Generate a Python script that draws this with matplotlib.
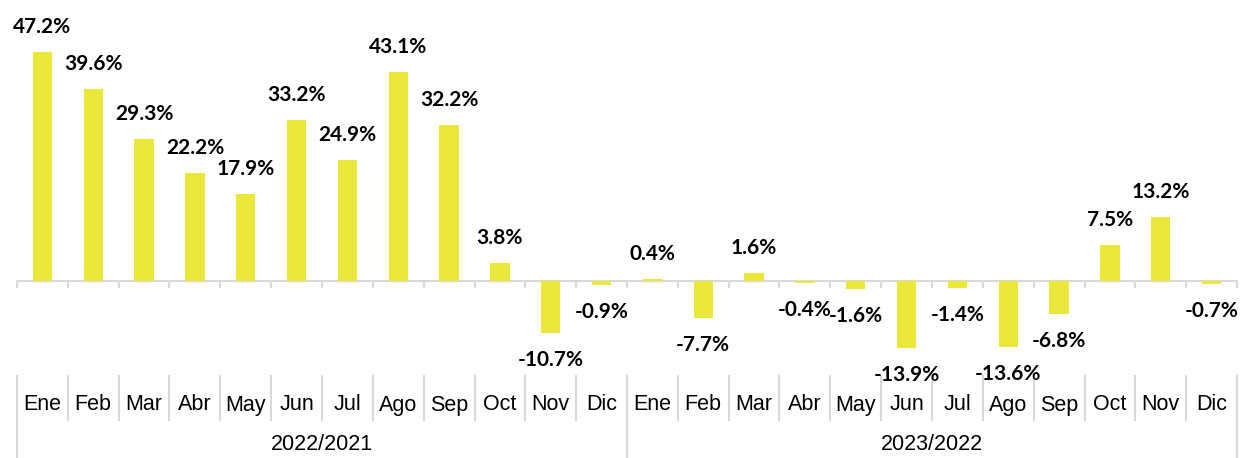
import matplotlib.pyplot as plt
from matplotlib.transforms import blended_transform_factory

months = ['Ene', 'Feb', 'Mar', 'Abr', 'May', 'Jun', 'Jul', 'Ago', 'Sep', 'Oct', 'Nov', 'Dic']
years = ['2022/2021', '2023/2022']
values_2022 = [47.2, 39.6, 29.3, 22.2, 17.9, 33.2, 24.9, 43.1, 32.2, 3.8, -10.7, -0.9]
values_2023 = [0.4, -7.7, 1.6, -0.4, -1.6, -13.9, -1.4, -13.6, -6.8, 7.5, 13.2, -0.7]

values = values_2022 + values_2023
labels = months * 2
x = list(range(len(values)))

W, H = 1240, 458
fig = plt.figure(figsize=(W / 100, H / 100), dpi=100)
ax = fig.add_axes([17 / W, (H - 370) / H, 1220 / W, 370 / H])

bar_color = '#EBE83C'
grid_color = '#D9D9D9'

ax.bar(x, values, width=0.38, color=bar_color)
ax.set_xlim(-0.5, len(values) - 0.5)
ax.set_ylim(-18.35, 57.9)
ax.axis('off')

# zero line and small ticks at category boundaries
ax.axhline(0, color=grid_color, linewidth=1.5, zorder=0)
trans_px = blended_transform_factory(ax.transData, fig.transFigure)
for b in range(len(values) + 1):
    xb = b - 0.5
    ax.plot([xb, xb], [1 - 281 / H, 1 - 287 / H], color=grid_color, lw=1.5,
            transform=trans_px, clip_on=False)

# data labels
for xi, v in zip(x, values):
    off = 18 if v >= 0 else -19.5
    ax.annotate(f'{v:.1f}%', xy=(xi, v), xytext=(0, off), textcoords='offset points',
                ha='center', va='center', fontsize=15, fontweight='bold',
                family='Lato', color='black')

# category table
for i, lab in enumerate(labels):
    ax.text(i, 1 - 405 / H, lab, transform=trans_px, ha='center', va='center',
            fontsize=15.5, family='Liberation Sans', color='black')
for b in range(len(values) + 1):
    xb = b - 0.5
    y_end = 0 if b % 12 == 0 else 1 - 420 / H
    ax.plot([xb, xb], [1 - 376 / H, y_end], color=grid_color, lw=1.5,
            transform=trans_px, clip_on=False)
for j, yr in enumerate(years):
    ax.text(j * 12 + 5.5, 1 - 445 / H, yr, transform=trans_px, ha='center', va='center',
            fontsize=15.5, family='Liberation Sans', color='black')

fig.savefig('out.png', dpi=100)
